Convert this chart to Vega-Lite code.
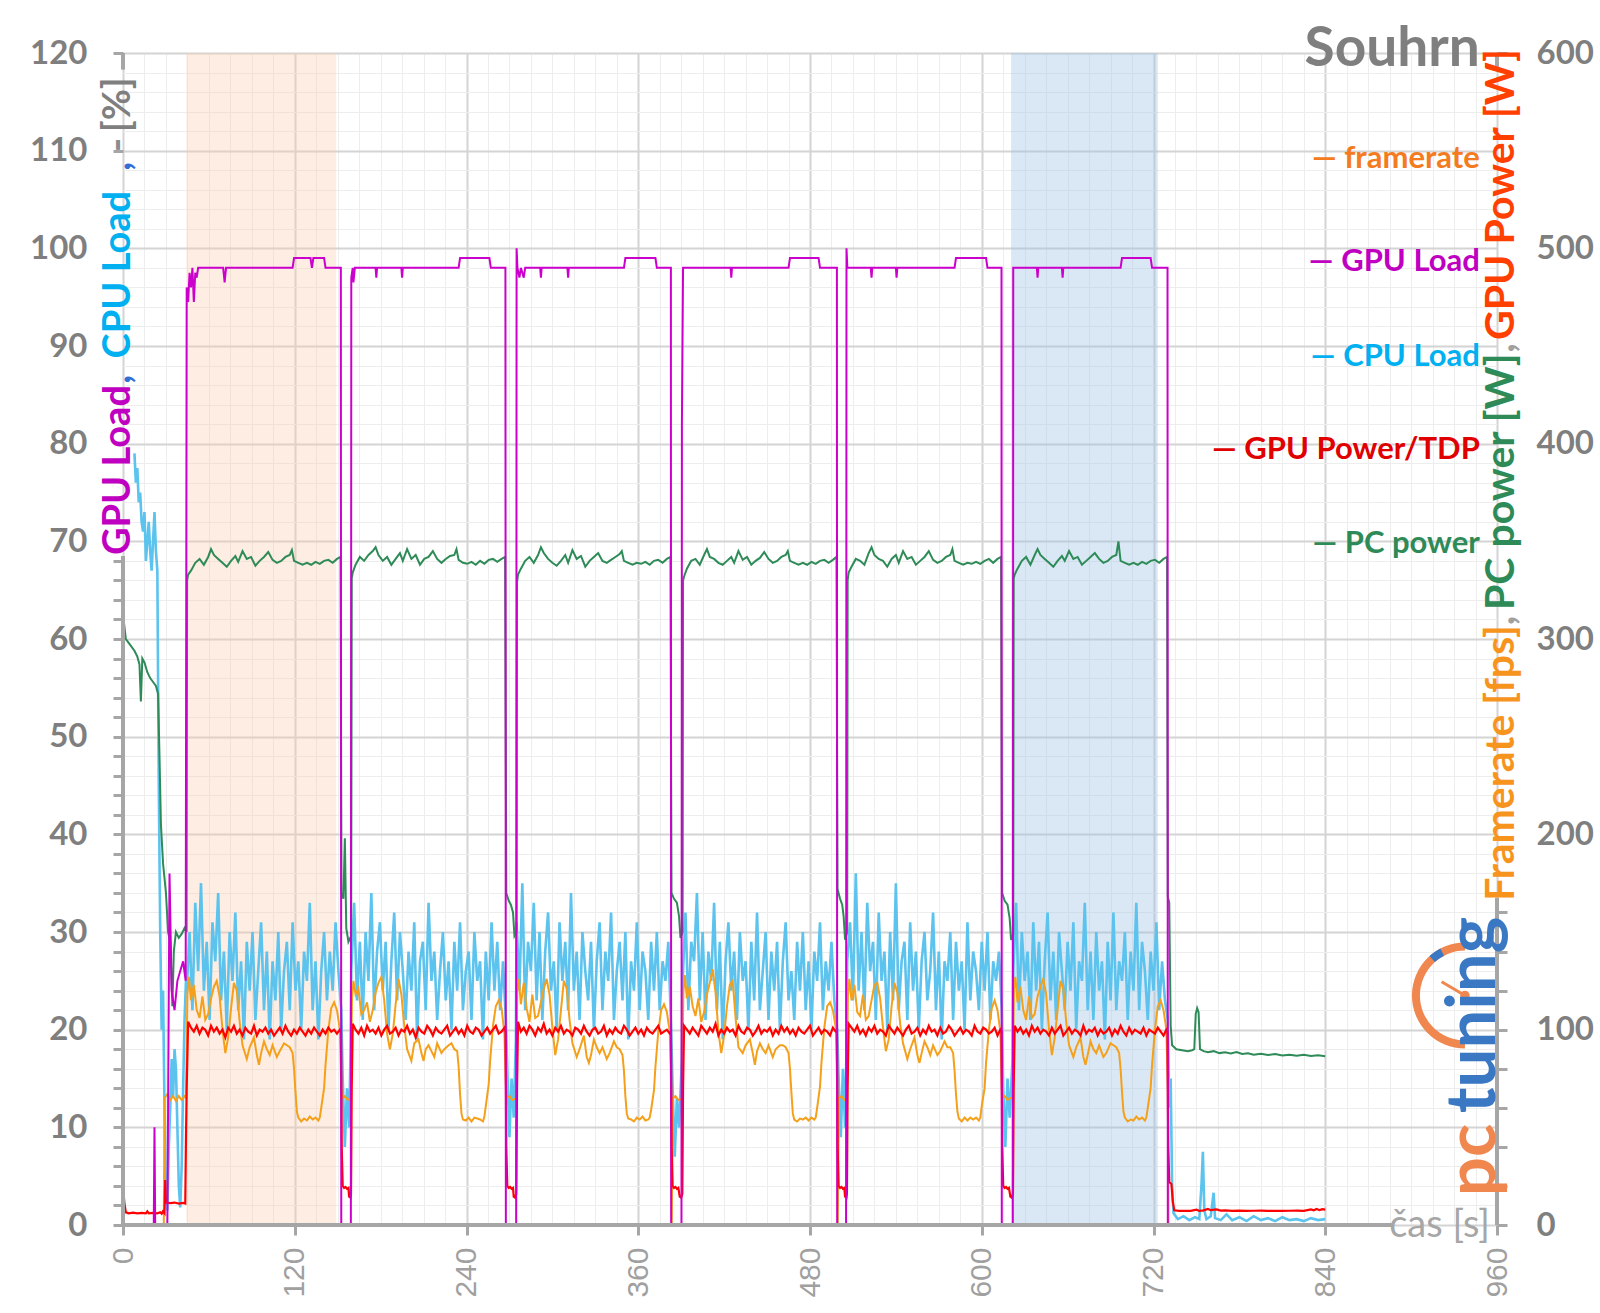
{
"$schema":"https://vega.github.io/schema/vega-lite/v6.json",
"width":1374,"height":1172,
"autosize":{"type":"none"},
"padding":{"left":123,"top":53,"right":103,"bottom":88},
"background":"white",
"config":{"view":{"stroke":null},"font":"Lato"},
"data":{"values":[{"k":1}]},
"datasets":{
"fps":[{"t":0,"v":0},{"t":28.5,"v":0},{"t":29,"v":65},{"t":31,"v":67},{"t":33,"v":64},{"t":35,"v":66},{"t":37,"v":63.5},{"t":39,"v":66},{"t":41,"v":64},{"t":43,"v":66},{"t":44,"v":65},
{"t":45,"v":118},{"t":46,"v":127},{"t":47.5,"v":115},{"t":49.5,"v":123},{"t":51.5,"v":110},{"t":53.5,"v":106},{"t":55.5,"v":117},{"t":57.5,"v":105},{"t":59.5,"v":108},{"t":61.5,"v":116},{"t":63.5,"v":122},{"t":65.5,"v":125},{"t":67.5,"v":117},{"t":69.5,"v":100},{"t":71.5,"v":88},{"t":73.5,"v":96},{"t":75.5,"v":111},{"t":77.5,"v":124},{"t":79.5,"v":120},{"t":81.5,"v":104},{"t":83.5,"v":92},{"t":86.5,"v":85},{"t":88.5,"v":91},{"t":91.5,"v":96},{"t":93.5,"v":87},{"t":95,"v":82},{"t":96.5,"v":88},{"t":98.5,"v":94},{"t":100.5,"v":90},{"t":102.5,"v":87},{"t":104.5,"v":92},{"t":107.5,"v":86},{"t":109.5,"v":89},{"t":112.5,"v":93},{"t":114.5,"v":92},{"t":116.5,"v":91},{"t":118.5,"v":88},{"t":119.5,"v":80},{"t":120.5,"v":68},{"t":121.5,"v":58},{"t":122.5,"v":55},{"t":124.5,"v":53},{"t":126.5,"v":54.5},{"t":128.5,"v":53.5},{"t":130.5,"v":55.5},{"t":132.5,"v":54},{"t":134.5,"v":55},{"t":136.5,"v":53.5},{"t":137.5,"v":55},{"t":138.5,"v":60},{"t":140.5,"v":70},{"t":141.5,"v":82},{"t":143.5,"v":100},{"t":145.5,"v":111},{"t":147.5,"v":114},{"t":149.5,"v":110},{"t":151.5,"v":100},{"t":152.5,"v":70},
{"t":153,"v":65},{"t":155,"v":66},{"t":157,"v":64},{"t":159,"v":65},
{"t":160,"v":116},{"t":161,"v":125},{"t":162.5,"v":118},{"t":164.5,"v":121},{"t":166.5,"v":108},{"t":168.5,"v":110},{"t":170.5,"v":114},{"t":172.5,"v":104},{"t":174.5,"v":110},{"t":176.5,"v":119},{"t":178.5,"v":124},{"t":180.5,"v":127},{"t":182.5,"v":115},{"t":184.5,"v":98},{"t":186.5,"v":90},{"t":188.5,"v":98},{"t":190.5,"v":113},{"t":192.5,"v":126},{"t":194.5,"v":118},{"t":196.5,"v":102},{"t":198.5,"v":90},{"t":201.5,"v":84},{"t":203.5,"v":93},{"t":206.5,"v":95},{"t":208.5,"v":88},{"t":210,"v":84},{"t":211.5,"v":90},{"t":213.5,"v":92},{"t":215.5,"v":89},{"t":217.5,"v":86},{"t":219.5,"v":93},{"t":222.5,"v":88},{"t":224.5,"v":90},{"t":227.5,"v":92},{"t":229.5,"v":93},{"t":231.5,"v":90},{"t":233.5,"v":89},{"t":234.5,"v":81},{"t":235.5,"v":67},{"t":236.5,"v":57},{"t":237.5,"v":54},{"t":239.5,"v":53.5},{"t":241.5,"v":55},{"t":243.5,"v":53},{"t":245.5,"v":55},{"t":247.5,"v":54.5},{"t":249.5,"v":54},{"t":251.5,"v":53},{"t":252.5,"v":55.5},{"t":253.5,"v":61},{"t":255.5,"v":72},{"t":256.5,"v":84},{"t":258.5,"v":102},{"t":260.5,"v":112},{"t":262.5,"v":115},{"t":264.5,"v":111},{"t":266.5,"v":98},{"t":267.5,"v":72},
{"t":268,"v":65},{"t":270,"v":66},{"t":272,"v":64},{"t":274.5,"v":65},
{"t":275.5,"v":120},{"t":276.5,"v":126},{"t":278,"v":113},{"t":280,"v":124},{"t":282,"v":111},{"t":284,"v":104},{"t":286,"v":118},{"t":288,"v":106},{"t":290,"v":107},{"t":292,"v":114},{"t":294,"v":121},{"t":296,"v":126},{"t":298,"v":118},{"t":300,"v":101},{"t":302,"v":87},{"t":304,"v":95},{"t":306,"v":110},{"t":308,"v":125},{"t":310,"v":121},{"t":312,"v":105},{"t":314,"v":93},{"t":317,"v":86},{"t":319,"v":90},{"t":322,"v":97},{"t":324,"v":86},{"t":325.5,"v":83},{"t":327,"v":87},{"t":329,"v":95},{"t":331,"v":91},{"t":333,"v":88},{"t":335,"v":91},{"t":338,"v":85},{"t":340,"v":88},{"t":343,"v":94},{"t":345,"v":91},{"t":347,"v":90},{"t":349,"v":87},{"t":350,"v":79},{"t":351,"v":66},{"t":352,"v":57},{"t":353,"v":54.5},{"t":355,"v":54},{"t":357,"v":53},{"t":359,"v":55},{"t":361,"v":54},{"t":363,"v":55.5},{"t":365,"v":53.5},{"t":367,"v":54},{"t":368,"v":55},{"t":369,"v":59},{"t":371,"v":69},{"t":372,"v":81},{"t":374,"v":99},{"t":376,"v":110},{"t":378,"v":113},{"t":380,"v":109},{"t":382,"v":99},{"t":383,"v":70},
{"t":383.4,"v":0},{"t":384.2,"v":65},{"t":386,"v":66},{"t":388,"v":64},{"t":390.5,"v":65},
{"t":391.5,"v":119},{"t":392.5,"v":128},{"t":394,"v":116},{"t":396,"v":122},{"t":398,"v":112},{"t":400,"v":107},{"t":402,"v":116},{"t":404,"v":104},{"t":406,"v":109},{"t":408,"v":118},{"t":410,"v":124},{"t":412,"v":131},{"t":414,"v":119},{"t":416,"v":99},{"t":418,"v":88},{"t":420,"v":97},{"t":422,"v":112},{"t":424,"v":123},{"t":426,"v":125},{"t":428,"v":106},{"t":430,"v":91},{"t":433,"v":88},{"t":435,"v":92},{"t":438,"v":95},{"t":440,"v":88},{"t":441.5,"v":82},{"t":443,"v":89},{"t":445,"v":93},{"t":447,"v":90},{"t":449,"v":88},{"t":451,"v":92},{"t":454,"v":86},{"t":456,"v":90},{"t":459,"v":92},{"t":461,"v":92},{"t":463,"v":91},{"t":465,"v":88},{"t":466,"v":80},{"t":467,"v":68},{"t":468,"v":57},{"t":469,"v":54},{"t":471,"v":53},{"t":473,"v":54.5},{"t":475,"v":54},{"t":477,"v":55},{"t":479,"v":53.5},{"t":481,"v":55},{"t":483,"v":54},{"t":484,"v":55},{"t":485,"v":60},{"t":487,"v":71},{"t":488,"v":83},{"t":490,"v":101},{"t":492,"v":112},{"t":494,"v":114},{"t":496,"v":110},{"t":498,"v":101},{"t":499,"v":70},
{"t":499.4,"v":0},{"t":500.2,"v":65},{"t":502,"v":66},{"t":504,"v":64},{"t":505.5,"v":65},
{"t":506.5,"v":117},{"t":507.5,"v":126},{"t":509,"v":115},{"t":511,"v":123},{"t":513,"v":109},{"t":515,"v":107},{"t":517,"v":118},{"t":519,"v":105},{"t":521,"v":107},{"t":523,"v":115},{"t":525,"v":123},{"t":527,"v":124},{"t":529,"v":116},{"t":531,"v":101},{"t":533,"v":89},{"t":535,"v":95},{"t":537,"v":112},{"t":539,"v":124},{"t":541,"v":119},{"t":543,"v":103},{"t":545,"v":93},{"t":548,"v":85},{"t":550,"v":90},{"t":553,"v":96},{"t":555,"v":87},{"t":556.5,"v":83},{"t":558,"v":88},{"t":560,"v":94},{"t":562,"v":91},{"t":564,"v":87},{"t":566,"v":92},{"t":569,"v":87},{"t":571,"v":89},{"t":574,"v":94},{"t":576,"v":91},{"t":578,"v":91},{"t":580,"v":88},{"t":581,"v":79},{"t":582,"v":67},{"t":583,"v":58},{"t":584,"v":54.5},{"t":586,"v":53},{"t":588,"v":55},{"t":590,"v":53.5},{"t":592,"v":55},{"t":594,"v":54},{"t":596,"v":55},{"t":598,"v":53.5},{"t":599,"v":55},{"t":600,"v":61},{"t":602,"v":70},{"t":603,"v":83},{"t":605,"v":100},{"t":607,"v":111},{"t":609,"v":115},{"t":611,"v":110},{"t":613,"v":99},{"t":614,"v":70},
{"t":614.5,"v":65},{"t":616,"v":66},{"t":618,"v":64},{"t":620,"v":65},{"t":621.5,"v":65},
{"t":622.5,"v":121},{"t":623.5,"v":127},{"t":625,"v":114},{"t":627,"v":122},{"t":629,"v":110},{"t":631,"v":105},{"t":633,"v":117},{"t":635,"v":106},{"t":637,"v":108},{"t":639,"v":117},{"t":641,"v":122},{"t":643,"v":126},{"t":645,"v":118},{"t":647,"v":100},{"t":649,"v":87},{"t":651,"v":96},{"t":653,"v":110},{"t":655,"v":125},{"t":657,"v":121},{"t":659,"v":104},{"t":661,"v":92},{"t":664,"v":86},{"t":666,"v":91},{"t":669,"v":96},{"t":671,"v":86},{"t":672.5,"v":82},{"t":674,"v":87},{"t":676,"v":94},{"t":678,"v":90},{"t":680,"v":88},{"t":682,"v":92},{"t":685,"v":86},{"t":687,"v":88},{"t":690,"v":93},{"t":692,"v":92},{"t":694,"v":91},{"t":696,"v":88},{"t":697,"v":80},{"t":698,"v":68},{"t":699,"v":58},{"t":700,"v":55},{"t":702,"v":53},{"t":704,"v":54},{"t":706,"v":53.5},{"t":708,"v":55.5},{"t":710,"v":54},{"t":712,"v":55},{"t":714,"v":53.5},{"t":715,"v":55},{"t":716,"v":60},{"t":718,"v":70},{"t":719,"v":82},{"t":721,"v":100},{"t":723,"v":112},{"t":725,"v":115},{"t":727,"v":110},{"t":729,"v":100},{"t":730,"v":70},
{"t":730.5,"v":0},{"t":840,"v":0}],
"gpu":[{"t":0,"v":0},{"t":21.5,"v":0},{"t":22,"v":10},{"t":22.5,"v":0},{"t":31,"v":0},{"t":32.5,"v":36},{"t":34,"v":24},{"t":36,"v":22},{"t":38,"v":25},{"t":40,"v":26},{"t":42,"v":27},{"t":43.8,"v":25},{"t":44.5,"v":96},{"t":45.5,"v":94.5},{"t":46.5,"v":97.5},{"t":47.5,"v":96},{"t":48.5,"v":98},{"t":49.5,"v":94.5},{"t":50.5,"v":97.5},{"t":51.5,"v":97},{"t":52.5,"v":98},{"t":70,"v":98},{"t":71,"v":96.5},{"t":72,"v":98},{"t":118.5,"v":98},{"t":119.5,"v":99},{"t":131,"v":99},{"t":132,"v":98},{"t":133,"v":99},{"t":140.5,"v":99},{"t":141.5,"v":98},{"t":152.2,"v":98},{"t":152.5,"v":0},
{"t":159.2,"v":0},{"t":159.5,"v":97},{"t":160.5,"v":98},{"t":161,"v":96.5},{"t":162,"v":98},{"t":176.5,"v":98},{"t":177,"v":97},{"t":177.5,"v":98},{"t":194.5,"v":98},{"t":195,"v":97},{"t":195.5,"v":98},{"t":234.5,"v":98},{"t":235.5,"v":99},{"t":256,"v":99},{"t":257,"v":98},{"t":267.2,"v":98},{"t":267.5,"v":0},
{"t":274.7,"v":0},{"t":275,"v":100},{"t":275.6,"v":98},{"t":277,"v":97},{"t":278,"v":98},{"t":280,"v":97},{"t":281,"v":98},{"t":291.5,"v":98},{"t":292,"v":97},{"t":292.5,"v":98},{"t":310.5,"v":98},{"t":311,"v":97},{"t":311.5,"v":98},{"t":350,"v":98},{"t":351,"v":99},{"t":372,"v":99},{"t":373,"v":98},{"t":382.8,"v":98},{"t":383,"v":0},
{"t":390.2,"v":0},{"t":390.5,"v":82},{"t":391.3,"v":98},{"t":424.5,"v":98},{"t":425,"v":97},{"t":425.5,"v":98},{"t":465,"v":98},{"t":466,"v":99},{"t":486,"v":99},{"t":487,"v":98},{"t":498.8,"v":98},{"t":499,"v":0},
{"t":505.2,"v":0},{"t":505.5,"v":100},{"t":506.1,"v":98},{"t":522.5,"v":98},{"t":523,"v":97},{"t":523.5,"v":98},{"t":540,"v":98},{"t":540.5,"v":97},{"t":541,"v":98},{"t":581,"v":98},{"t":582,"v":99},{"t":603,"v":99},{"t":604,"v":98},{"t":613.8,"v":98},{"t":614,"v":0},
{"t":621.7,"v":0},{"t":622,"v":98},{"t":638.5,"v":98},{"t":639,"v":97},{"t":639.5,"v":98},{"t":656,"v":98},{"t":656.5,"v":97},{"t":657,"v":98},{"t":697,"v":98},{"t":698,"v":99},{"t":718,"v":99},{"t":719,"v":98},{"t":729.8,"v":98},{"t":730,"v":0},{"t":840,"v":0}],
"cpu":[{"t":8,"v":79},{"t":9,"v":76},{"t":10,"v":77.5},{"t":11,"v":74},{"t":12,"v":75},{"t":13,"v":72},{"t":14,"v":71},{"t":15,"v":73},{"t":16,"v":68},{"t":17,"v":70},{"t":18,"v":72},{"t":19,"v":69},{"t":20,"v":67},{"t":21,"v":70},{"t":22,"v":73},{"t":23,"v":69},{"t":24,"v":67},{"t":25,"v":45},{"t":26,"v":30},{"t":27,"v":20},{"t":28,"v":24},{"t":29,"v":12},{"t":30,"v":3},{"t":31,"v":1.5},{"t":32,"v":8},{"t":33,"v":12},{"t":34,"v":17},{"t":35,"v":13},{"t":36,"v":18},{"t":37,"v":16},{"t":38,"v":10},{"t":39,"v":4},{"t":40,"v":1.8},{"t":41,"v":6},{"t":42,"v":14},{"t":43,"v":21},{"t":44,"v":25},
{"t":44.5,"v":24},{"t":46.5,"v":30},{"t":48.5,"v":22},{"t":50.5,"v":33},{"t":52.5,"v":26},{"t":54.5,"v":35},{"t":56.5,"v":24},{"t":58.5,"v":29},{"t":60.5,"v":21},{"t":62.5,"v":31},{"t":64.5,"v":27},{"t":66.5,"v":34},{"t":68.5,"v":23},{"t":70.5,"v":28},{"t":72.5,"v":20},{"t":74.5,"v":30},{"t":76.5,"v":25},{"t":78.5,"v":32},{"t":80.5,"v":22},{"t":82.5,"v":27},{"t":84.5,"v":19},{"t":86.5,"v":29},{"t":88.5,"v":24},{"t":90.5,"v":30},{"t":92.5,"v":21},{"t":94.5,"v":26},{"t":96.5,"v":31},{"t":98.5,"v":22},{"t":100.5,"v":28},{"t":102.5,"v":19},{"t":104.5,"v":27},{"t":106.5,"v":23},{"t":108.5,"v":30},{"t":110.5,"v":20},{"t":112.5,"v":26},{"t":114.5,"v":29},{"t":116.5,"v":22},{"t":118.5,"v":31},{"t":120.5,"v":24},{"t":122.5,"v":27},{"t":124.5,"v":20},{"t":126.5,"v":28},{"t":128.5,"v":25},{"t":130.5,"v":33},{"t":132.5,"v":22},{"t":134.5,"v":27},{"t":136.5,"v":19},{"t":138.5,"v":26},{"t":140.5,"v":30},{"t":142.5,"v":23},{"t":144.5,"v":28},{"t":146.5,"v":24},{"t":148.5,"v":31},{"t":150.5,"v":26},{"t":152.5,"v":22},
{"t":153.5,"v":15},{"t":155,"v":8},{"t":156.5,"v":14},{"t":158,"v":10},{"t":159,"v":18},
{"t":159.5,"v":26},{"t":161.5,"v":33},{"t":163.5,"v":23},{"t":165.5,"v":29},{"t":167.5,"v":21},{"t":169.5,"v":30},{"t":171.5,"v":25},{"t":173.5,"v":34},{"t":175.5,"v":22},{"t":177.5,"v":28},{"t":179.5,"v":31},{"t":181.5,"v":24},{"t":183.5,"v":29},{"t":185.5,"v":20},{"t":187.5,"v":27},{"t":189.5,"v":32},{"t":191.5,"v":23},{"t":193.5,"v":30},{"t":195.5,"v":26},{"t":197.5,"v":21},{"t":199.5,"v":28},{"t":201.5,"v":24},{"t":203.5,"v":31},{"t":205.5,"v":19},{"t":207.5,"v":27},{"t":209.5,"v":29},{"t":211.5,"v":22},{"t":213.5,"v":33},{"t":215.5,"v":25},{"t":217.5,"v":28},{"t":219.5,"v":21},{"t":221.5,"v":26},{"t":223.5,"v":30},{"t":225.5,"v":23},{"t":227.5,"v":27},{"t":229.5,"v":20},{"t":231.5,"v":29},{"t":233.5,"v":24},{"t":235.5,"v":31},{"t":237.5,"v":22},{"t":239.5,"v":26},{"t":241.5,"v":28},{"t":243.5,"v":21},{"t":245.5,"v":30},{"t":247.5,"v":25},{"t":249.5,"v":27},{"t":251.5,"v":19},{"t":253.5,"v":28},{"t":255.5,"v":23},{"t":257.5,"v":31},{"t":259.5,"v":24},{"t":261.5,"v":29},{"t":263.5,"v":22},{"t":265.5,"v":27},{"t":267.5,"v":21},
{"t":268.5,"v":16},{"t":270,"v":9},{"t":271.5,"v":15},{"t":273,"v":11},{"t":274.5,"v":19},
{"t":275,"v":31},{"t":277,"v":24},{"t":279,"v":35},{"t":281,"v":22},{"t":283,"v":29},{"t":285,"v":26},{"t":287,"v":33},{"t":289,"v":23},{"t":291,"v":30},{"t":293,"v":21},{"t":295,"v":28},{"t":297,"v":32},{"t":299,"v":24},{"t":301,"v":27},{"t":303,"v":20},{"t":305,"v":31},{"t":307,"v":25},{"t":309,"v":29},{"t":311,"v":22},{"t":313,"v":34},{"t":315,"v":24},{"t":317,"v":28},{"t":319,"v":21},{"t":321,"v":30},{"t":323,"v":26},{"t":325,"v":23},{"t":327,"v":29},{"t":329,"v":20},{"t":331,"v":27},{"t":333,"v":31},{"t":335,"v":22},{"t":337,"v":28},{"t":339,"v":25},{"t":341,"v":32},{"t":343,"v":21},{"t":345,"v":26},{"t":347,"v":29},{"t":349,"v":23},{"t":351,"v":30},{"t":353,"v":19},{"t":355,"v":27},{"t":357,"v":24},{"t":359,"v":31},{"t":361,"v":22},{"t":363,"v":28},{"t":365,"v":26},{"t":367,"v":21},{"t":369,"v":29},{"t":371,"v":24},{"t":373,"v":30},{"t":375,"v":22},{"t":377,"v":27},{"t":379,"v":25},{"t":381,"v":29},{"t":383,"v":20},
{"t":384,"v":14},{"t":385.5,"v":7},{"t":387,"v":13},{"t":388.5,"v":10},{"t":390.5,"v":17},
{"t":391,"v":25},{"t":393,"v":32},{"t":395,"v":22},{"t":397,"v":29},{"t":399,"v":27},{"t":401,"v":34},{"t":403,"v":23},{"t":405,"v":30},{"t":407,"v":21},{"t":409,"v":28},{"t":411,"v":25},{"t":413,"v":33},{"t":415,"v":22},{"t":417,"v":29},{"t":419,"v":19},{"t":421,"v":27},{"t":423,"v":31},{"t":425,"v":24},{"t":427,"v":28},{"t":429,"v":21},{"t":431,"v":30},{"t":433,"v":25},{"t":435,"v":27},{"t":437,"v":20},{"t":439,"v":29},{"t":441,"v":23},{"t":443,"v":32},{"t":445,"v":22},{"t":447,"v":26},{"t":449,"v":30},{"t":451,"v":21},{"t":453,"v":28},{"t":455,"v":24},{"t":457,"v":29},{"t":459,"v":20},{"t":461,"v":27},{"t":463,"v":31},{"t":465,"v":23},{"t":467,"v":26},{"t":469,"v":21},{"t":471,"v":29},{"t":473,"v":24},{"t":475,"v":30},{"t":477,"v":22},{"t":479,"v":27},{"t":481,"v":20},{"t":483,"v":28},{"t":485,"v":25},{"t":487,"v":31},{"t":489,"v":22},{"t":491,"v":27},{"t":493,"v":24},{"t":495,"v":29},{"t":497,"v":23},{"t":499,"v":20},
{"t":500,"v":15},{"t":501.5,"v":9},{"t":503,"v":16},{"t":504.5,"v":10},{"t":505.5,"v":18},
{"t":506,"v":27},{"t":508,"v":31},{"t":510,"v":23},{"t":512,"v":36},{"t":514,"v":24},{"t":516,"v":30},{"t":518,"v":22},{"t":520,"v":33},{"t":522,"v":26},{"t":524,"v":29},{"t":526,"v":21},{"t":528,"v":32},{"t":530,"v":25},{"t":532,"v":28},{"t":534,"v":20},{"t":536,"v":30},{"t":538,"v":23},{"t":540,"v":35},{"t":542,"v":22},{"t":544,"v":27},{"t":546,"v":29},{"t":548,"v":21},{"t":550,"v":31},{"t":552,"v":24},{"t":554,"v":28},{"t":556,"v":20},{"t":558,"v":27},{"t":560,"v":30},{"t":562,"v":23},{"t":564,"v":26},{"t":566,"v":32},{"t":568,"v":22},{"t":570,"v":28},{"t":572,"v":19},{"t":574,"v":27},{"t":576,"v":25},{"t":578,"v":30},{"t":580,"v":21},{"t":582,"v":29},{"t":584,"v":24},{"t":586,"v":27},{"t":588,"v":20},{"t":590,"v":31},{"t":592,"v":23},{"t":594,"v":28},{"t":596,"v":26},{"t":598,"v":22},{"t":600,"v":29},{"t":602,"v":24},{"t":604,"v":30},{"t":606,"v":21},{"t":608,"v":27},{"t":610,"v":25},{"t":612,"v":28},{"t":614,"v":22},
{"t":615,"v":14},{"t":616.5,"v":8},{"t":618,"v":15},{"t":619.5,"v":11},{"t":621.5,"v":17},
{"t":622,"v":26},{"t":624,"v":33},{"t":626,"v":22},{"t":628,"v":30},{"t":630,"v":25},{"t":632,"v":28},{"t":634,"v":21},{"t":636,"v":31},{"t":638,"v":24},{"t":640,"v":29},{"t":642,"v":20},{"t":644,"v":27},{"t":646,"v":32},{"t":648,"v":23},{"t":650,"v":28},{"t":652,"v":21},{"t":654,"v":30},{"t":656,"v":26},{"t":658,"v":22},{"t":660,"v":29},{"t":662,"v":24},{"t":664,"v":31},{"t":666,"v":20},{"t":668,"v":27},{"t":670,"v":25},{"t":672,"v":33},{"t":674,"v":22},{"t":676,"v":28},{"t":678,"v":21},{"t":680,"v":30},{"t":682,"v":24},{"t":684,"v":27},{"t":686,"v":19},{"t":688,"v":29},{"t":690,"v":23},{"t":692,"v":32},{"t":694,"v":22},{"t":696,"v":27},{"t":698,"v":25},{"t":700,"v":30},{"t":702,"v":21},{"t":704,"v":28},{"t":706,"v":24},{"t":708,"v":33},{"t":710,"v":22},{"t":712,"v":29},{"t":714,"v":26},{"t":716,"v":21},{"t":718,"v":28},{"t":720,"v":24},{"t":722,"v":31},{"t":724,"v":22},{"t":726,"v":27},{"t":728,"v":23},{"t":730,"v":21},
{"t":731,"v":12},{"t":732,"v":15},{"t":733,"v":4},{"t":734,"v":1.2},{"t":737,"v":0.6},{"t":741,"v":0.9},{"t":745,"v":0.5},{"t":749,"v":0.8},{"t":752,"v":0.6},{"t":753.5,"v":4},{"t":754.5,"v":7.5},{"t":755.5,"v":1.5},{"t":757,"v":0.6},{"t":760,"v":0.9},{"t":762,"v":3.3},{"t":763,"v":0.7},{"t":767,"v":0.5},{"t":771,"v":1.1},{"t":775,"v":0.5},{"t":780,"v":0.8},{"t":785,"v":0.4},{"t":790,"v":0.9},{"t":795,"v":0.5},{"t":800,"v":0.7},{"t":805,"v":0.4},{"t":810,"v":0.8},{"t":815,"v":0.5},{"t":820,"v":0.6},{"t":825,"v":0.4},{"t":830,"v":0.7},{"t":835,"v":0.5},{"t":840,"v":0.6}],
"pw":[{"t":0,"v":20},{"t":1,"v":11},{"t":2,"v":6.5},{"t":4,"v":6},{"t":7,"v":6.3},{"t":10,"v":6},{"t":13,"v":6.2},{"t":16,"v":6},{"t":17,"v":7},{"t":18,"v":6},{"t":21,"v":6.2},{"t":24,"v":6},{"t":26,"v":6.5},{"t":27,"v":5.8},{"t":28,"v":7},{"t":29,"v":6},{"t":29.5,"v":23},{"t":30,"v":11.5},{"t":33,"v":11.2},{"t":36,"v":11.5},{"t":39,"v":11},{"t":42,"v":11.3},{"t":43.5,"v":11},{"t":44,"v":45},{"t":44.5,"v":70},
{"t":45.5,"v":104},{"t":47.5,"v":101},{"t":49.5,"v":99},{"t":51.5,"v":102},{"t":53.5,"v":98},{"t":55.5,"v":101},{"t":57.5,"v":100},{"t":59.5,"v":97},{"t":61.5,"v":102},{"t":63.5,"v":99},{"t":65.5,"v":101},{"t":67.5,"v":98},{"t":69.5,"v":100},{"t":71.5,"v":96},{"t":73.5,"v":101},{"t":75.5,"v":99},{"t":77.5,"v":102},{"t":79.5,"v":98},{"t":81.5,"v":100},{"t":83.5,"v":97},{"t":85.5,"v":101},{"t":87.5,"v":99},{"t":89.5,"v":98},{"t":91.5,"v":102},{"t":93.5,"v":97},{"t":95.5,"v":100},{"t":97.5,"v":99},{"t":99.5,"v":101},{"t":101.5,"v":98},{"t":103.5,"v":100},{"t":105.5,"v":97},{"t":107.5,"v":99},{"t":109.5,"v":101},{"t":111.5,"v":98},{"t":113.5,"v":102},{"t":115.5,"v":99},{"t":117.5,"v":97},{"t":119.5,"v":100},{"t":121.5,"v":98},{"t":123.5,"v":101},{"t":125.5,"v":99},{"t":127.5,"v":97},{"t":129.5,"v":100},{"t":131.5,"v":98},{"t":133.5,"v":101},{"t":135.5,"v":99},{"t":137.5,"v":97},{"t":139.5,"v":100},{"t":141.5,"v":98},{"t":143.5,"v":101},{"t":145.5,"v":99},{"t":147.5,"v":100},{"t":149.5,"v":98},{"t":151.5,"v":100},
{"t":152.3,"v":99},{"t":152.8,"v":40},{"t":153.5,"v":20},{"t":154.5,"v":19},{"t":155.5,"v":19.5},{"t":156.5,"v":18.5},{"t":157.5,"v":19},{"t":158,"v":14.5},{"t":159,"v":14},{"t":159.3,"v":16},{"t":159.8,"v":70},
{"t":160.5,"v":103},{"t":162.5,"v":100},{"t":164.5,"v":98},{"t":166.5,"v":101},{"t":168.5,"v":97},{"t":170.5,"v":102},{"t":172.5,"v":99},{"t":174.5,"v":100},{"t":176.5,"v":98},{"t":178.5,"v":101},{"t":180.5,"v":97},{"t":182.5,"v":100},{"t":184.5,"v":102},{"t":186.5,"v":98},{"t":188.5,"v":99},{"t":190.5,"v":101},{"t":192.5,"v":97},{"t":194.5,"v":100},{"t":196.5,"v":99},{"t":198.5,"v":102},{"t":200.5,"v":98},{"t":202.5,"v":100},{"t":204.5,"v":96},{"t":206.5,"v":101},{"t":208.5,"v":99},{"t":210.5,"v":98},{"t":212.5,"v":102},{"t":214.5,"v":100},{"t":216.5,"v":97},{"t":218.5,"v":101},{"t":220.5,"v":99},{"t":222.5,"v":98},{"t":224.5,"v":100},{"t":226.5,"v":102},{"t":228.5,"v":97},{"t":230.5,"v":99},{"t":232.5,"v":101},{"t":234.5,"v":98},{"t":236.5,"v":100},{"t":238.5,"v":97},{"t":240.5,"v":102},{"t":242.5,"v":99},{"t":244.5,"v":98},{"t":246.5,"v":101},{"t":248.5,"v":100},{"t":250.5,"v":97},{"t":252.5,"v":99},{"t":254.5,"v":101},{"t":256.5,"v":98},{"t":258.5,"v":100},{"t":260.5,"v":102},{"t":262.5,"v":98},{"t":264.5,"v":99},{"t":266.5,"v":101},
{"t":267.3,"v":99},{"t":267.8,"v":40},{"t":268.5,"v":20},{"t":269.5,"v":19},{"t":270.5,"v":19.5},{"t":271.5,"v":18.5},{"t":272.5,"v":19},{"t":273,"v":14.5},{"t":274,"v":14},{"t":274.8,"v":16},{"t":275.3,"v":70},
{"t":276,"v":104},{"t":278,"v":99},{"t":280,"v":101},{"t":282,"v":98},{"t":284,"v":102},{"t":286,"v":100},{"t":288,"v":97},{"t":290,"v":101},{"t":292,"v":99},{"t":294,"v":103},{"t":296,"v":98},{"t":298,"v":100},{"t":300,"v":97},{"t":302,"v":101},{"t":304,"v":99},{"t":306,"v":102},{"t":308,"v":98},{"t":310,"v":100},{"t":312,"v":99},{"t":314,"v":97},{"t":316,"v":101},{"t":318,"v":100},{"t":320,"v":98},{"t":322,"v":102},{"t":324,"v":99},{"t":326,"v":97},{"t":328,"v":100},{"t":330,"v":101},{"t":332,"v":98},{"t":334,"v":99},{"t":336,"v":102},{"t":338,"v":97},{"t":340,"v":100},{"t":342,"v":98},{"t":344,"v":101},{"t":346,"v":99},{"t":348,"v":98},{"t":350,"v":102},{"t":352,"v":100},{"t":354,"v":97},{"t":356,"v":99},{"t":358,"v":101},{"t":360,"v":98},{"t":362,"v":100},{"t":364,"v":97},{"t":366,"v":101},{"t":368,"v":99},{"t":370,"v":98},{"t":372,"v":100},{"t":374,"v":102},{"t":376,"v":98},{"t":378,"v":99},{"t":380,"v":100},{"t":382,"v":98},
{"t":382.8,"v":99},{"t":383.3,"v":40},{"t":384,"v":20},{"t":385,"v":19},{"t":386,"v":19.5},{"t":387,"v":18.5},{"t":388,"v":19},{"t":389,"v":14.5},{"t":390,"v":14},{"t":390.8,"v":16},{"t":391.3,"v":70},
{"t":392,"v":102},{"t":394,"v":100},{"t":396,"v":98},{"t":398,"v":101},{"t":400,"v":99},{"t":402,"v":97},{"t":404,"v":102},{"t":406,"v":100},{"t":408,"v":98},{"t":410,"v":101},{"t":412,"v":99},{"t":414,"v":103},{"t":416,"v":97},{"t":418,"v":100},{"t":420,"v":98},{"t":422,"v":101},{"t":424,"v":99},{"t":426,"v":100},{"t":428,"v":97},{"t":430,"v":102},{"t":432,"v":99},{"t":434,"v":98},{"t":436,"v":101},{"t":438,"v":100},{"t":440,"v":97},{"t":442,"v":99},{"t":444,"v":102},{"t":446,"v":98},{"t":448,"v":100},{"t":450,"v":99},{"t":452,"v":101},{"t":454,"v":97},{"t":456,"v":100},{"t":458,"v":98},{"t":460,"v":102},{"t":462,"v":99},{"t":464,"v":101},{"t":466,"v":98},{"t":468,"v":100},{"t":470,"v":97},{"t":472,"v":101},{"t":474,"v":99},{"t":476,"v":98},{"t":478,"v":100},{"t":480,"v":102},{"t":482,"v":97},{"t":484,"v":99},{"t":486,"v":101},{"t":488,"v":98},{"t":490,"v":100},{"t":492,"v":99},{"t":494,"v":97},{"t":496,"v":101},{"t":498,"v":99},
{"t":498.8,"v":99},{"t":499.3,"v":40},{"t":500,"v":20},{"t":501,"v":19},{"t":502,"v":19.5},{"t":503,"v":18.5},{"t":504,"v":19},{"t":504.5,"v":14.5},{"t":505.5,"v":14},{"t":505.8,"v":16},{"t":506.3,"v":70},
{"t":507,"v":103},{"t":509,"v":101},{"t":511,"v":99},{"t":513,"v":102},{"t":515,"v":98},{"t":517,"v":100},{"t":519,"v":97},{"t":521,"v":101},{"t":523,"v":99},{"t":525,"v":102},{"t":527,"v":98},{"t":529,"v":100},{"t":531,"v":99},{"t":533,"v":97},{"t":535,"v":102},{"t":537,"v":100},{"t":539,"v":98},{"t":541,"v":101},{"t":543,"v":99},{"t":545,"v":97},{"t":547,"v":100},{"t":549,"v":102},{"t":551,"v":98},{"t":553,"v":99},{"t":555,"v":101},{"t":557,"v":97},{"t":559,"v":100},{"t":561,"v":98},{"t":563,"v":102},{"t":565,"v":99},{"t":567,"v":100},{"t":569,"v":97},{"t":571,"v":101},{"t":573,"v":98},{"t":575,"v":99},{"t":577,"v":102},{"t":579,"v":100},{"t":581,"v":97},{"t":583,"v":99},{"t":585,"v":101},{"t":587,"v":98},{"t":589,"v":100},{"t":591,"v":99},{"t":593,"v":97},{"t":595,"v":102},{"t":597,"v":99},{"t":599,"v":98},{"t":601,"v":101},{"t":603,"v":100},{"t":605,"v":98},{"t":607,"v":99},{"t":609,"v":101},{"t":611,"v":97},{"t":613,"v":100},
{"t":613.8,"v":99},{"t":614.3,"v":40},{"t":615,"v":20},{"t":616,"v":19},{"t":617,"v":19.5},{"t":618,"v":18.5},{"t":619,"v":19},{"t":620,"v":14.5},{"t":621,"v":14},{"t":621.8,"v":16},{"t":622.3,"v":70},
{"t":623,"v":102},{"t":625,"v":99},{"t":627,"v":101},{"t":629,"v":98},{"t":631,"v":100},{"t":633,"v":97},{"t":635,"v":102},{"t":637,"v":99},{"t":639,"v":101},{"t":641,"v":98},{"t":643,"v":100},{"t":645,"v":99},{"t":647,"v":97},{"t":649,"v":101},{"t":651,"v":98},{"t":653,"v":100},{"t":655,"v":102},{"t":657,"v":97},{"t":659,"v":99},{"t":661,"v":101},{"t":663,"v":98},{"t":665,"v":100},{"t":667,"v":99},{"t":669,"v":97},{"t":671,"v":102},{"t":673,"v":98},{"t":675,"v":100},{"t":677,"v":99},{"t":679,"v":101},{"t":681,"v":97},{"t":683,"v":100},{"t":685,"v":98},{"t":687,"v":99},{"t":689,"v":101},{"t":691,"v":97},{"t":693,"v":100},{"t":695,"v":98},{"t":697,"v":102},{"t":699,"v":99},{"t":701,"v":97},{"t":703,"v":101},{"t":705,"v":98},{"t":707,"v":100},{"t":709,"v":99},{"t":711,"v":98},{"t":713,"v":101},{"t":715,"v":97},{"t":717,"v":100},{"t":719,"v":99},{"t":721,"v":98},{"t":723,"v":101},{"t":725,"v":99},{"t":727,"v":97},{"t":729,"v":100},
{"t":729.8,"v":99},{"t":730.3,"v":40},{"t":731,"v":22},{"t":732.5,"v":21},{"t":733.5,"v":12},{"t":734.5,"v":7.5},{"t":738,"v":7.2},{"t":742,"v":7.3},{"t":746,"v":7.2},{"t":750,"v":7.8},{"t":752,"v":7.2},{"t":755,"v":7.5},{"t":758,"v":8.2},{"t":760,"v":7.6},{"t":764,"v":8},{"t":767,"v":7.4},{"t":770,"v":7.5},{"t":775,"v":7.2},{"t":780,"v":7.4},{"t":785,"v":7.2},{"t":790,"v":7.3},{"t":795,"v":7.4},{"t":800,"v":7.2},{"t":805,"v":7.3},{"t":810,"v":7.2},{"t":815,"v":7.3},{"t":820,"v":7.4},{"t":825,"v":7.2},{"t":830,"v":8},{"t":832,"v":7.5},{"t":834,"v":8.2},{"t":836,"v":7.6},{"t":838,"v":8.1},{"t":840,"v":7.9}],
"pc":[{"t":0,"v":150},{"t":0.4,"v":310},{"t":2,"v":300},{"t":5,"v":297},{"t":8,"v":294},{"t":10,"v":291},{"t":11.5,"v":287},{"t":12.5,"v":268},{"t":13.5,"v":290},{"t":15,"v":288},{"t":17,"v":283},{"t":19,"v":280},{"t":21,"v":278},{"t":23,"v":276},{"t":24.5,"v":272},{"t":25.5,"v":240},{"t":26.5,"v":205},{"t":28,"v":185},{"t":30,"v":170},{"t":31.5,"v":150},{"t":33,"v":145},{"t":34.5,"v":112},{"t":35.5,"v":140},{"t":37,"v":150},{"t":39,"v":147},{"t":41,"v":149},{"t":43,"v":152},{"t":44.4,"v":150},
{"t":44.8,"v":330},{"t":45.5,"v":333},{"t":47.5,"v":335},{"t":50.5,"v":339},{"t":53.5,"v":341},{"t":56.5,"v":338},{"t":59.5,"v":342},{"t":61.5,"v":346},{"t":63.5,"v":343},{"t":66.5,"v":341},{"t":69.5,"v":339},{"t":72.5,"v":337},{"t":75.5,"v":340},{"t":78.5,"v":342.5},{"t":80.5,"v":339.5},{"t":83.5,"v":345},{"t":86.5,"v":341},{"t":89.5,"v":342},{"t":92.5,"v":337.5},{"t":95.5,"v":340},{"t":98.5,"v":342},{"t":101.5,"v":344.5},{"t":104.5,"v":340.5},{"t":107.5,"v":339},{"t":110.5,"v":340},{"t":113.5,"v":342},{"t":116.5,"v":343},{"t":118,"v":345.5},{"t":119.5,"v":340},{"t":122.5,"v":339},{"t":125.5,"v":338},{"t":128.5,"v":339},{"t":131.5,"v":338},{"t":134.5,"v":339.5},{"t":137.5,"v":338.5},{"t":140.5,"v":340},{"t":143.5,"v":340.5},{"t":146.5,"v":339},{"t":149.5,"v":341},{"t":152,"v":342},
{"t":152.6,"v":170},{"t":154,"v":167},{"t":155,"v":198},{"t":156,"v":152},{"t":157.5,"v":145},{"t":159.4,"v":148},
{"t":159.8,"v":331},{"t":160.5,"v":334},{"t":162.5,"v":338},{"t":165.5,"v":342},{"t":168.5,"v":340},{"t":171.5,"v":343},{"t":174.5,"v":345},{"t":176.5,"v":347},{"t":178.5,"v":343},{"t":181.5,"v":340},{"t":184.5,"v":342},{"t":187.5,"v":338},{"t":190.5,"v":341},{"t":193.5,"v":344},{"t":195.5,"v":340},{"t":198.5,"v":346},{"t":201.5,"v":341},{"t":204.5,"v":343},{"t":207.5,"v":338},{"t":210.5,"v":341},{"t":213.5,"v":342},{"t":216.5,"v":345},{"t":219.5,"v":341},{"t":222.5,"v":339},{"t":225.5,"v":341},{"t":228.5,"v":342.5},{"t":231.5,"v":343},{"t":233,"v":346},{"t":234.5,"v":340.5},{"t":237.5,"v":339},{"t":240.5,"v":338.5},{"t":243.5,"v":339.5},{"t":246.5,"v":338},{"t":249.5,"v":340},{"t":252.5,"v":338.5},{"t":255.5,"v":340.5},{"t":258.5,"v":341},{"t":261.5,"v":339.5},{"t":264.5,"v":341},{"t":267,"v":342},
{"t":267.8,"v":170},{"t":269.5,"v":166},{"t":271,"v":164},{"t":272.5,"v":160},{"t":273.5,"v":148},{"t":275,"v":150},
{"t":275.3,"v":329},{"t":276,"v":333},{"t":278,"v":336},{"t":281,"v":340},{"t":284,"v":342},{"t":287,"v":339},{"t":290,"v":343},{"t":292,"v":347},{"t":294,"v":344},{"t":297,"v":341},{"t":300,"v":339},{"t":303,"v":337.5},{"t":306,"v":340},{"t":309,"v":343},{"t":311,"v":339},{"t":314,"v":345.5},{"t":317,"v":341},{"t":320,"v":342.5},{"t":323,"v":337},{"t":326,"v":340},{"t":329,"v":342},{"t":332,"v":344},{"t":335,"v":340},{"t":338,"v":339},{"t":341,"v":340.5},{"t":344,"v":342},{"t":347,"v":343.5},{"t":348.5,"v":345},{"t":350,"v":340},{"t":353,"v":339},{"t":356,"v":338},{"t":359,"v":339},{"t":362,"v":338.5},{"t":365,"v":339.5},{"t":368,"v":338},{"t":371,"v":340},{"t":374,"v":340.5},{"t":377,"v":339},{"t":380,"v":341},{"t":382.5,"v":342},
{"t":383.2,"v":170},{"t":385,"v":167},{"t":387,"v":165},{"t":388.5,"v":158},{"t":389.5,"v":147},{"t":391,"v":150},
{"t":391.3,"v":330},{"t":392,"v":332},{"t":394,"v":336},{"t":397,"v":340},{"t":400,"v":341},{"t":403,"v":338},{"t":406,"v":343},{"t":408,"v":346},{"t":410,"v":342},{"t":413,"v":341},{"t":416,"v":339},{"t":419,"v":338},{"t":422,"v":340},{"t":425,"v":342},{"t":427,"v":339},{"t":430,"v":345},{"t":433,"v":340.5},{"t":436,"v":342},{"t":439,"v":338},{"t":442,"v":340},{"t":445,"v":341.5},{"t":448,"v":344.5},{"t":451,"v":341},{"t":454,"v":339},{"t":457,"v":340},{"t":460,"v":342},{"t":463,"v":343},{"t":464.5,"v":345},{"t":466,"v":340},{"t":469,"v":339},{"t":472,"v":338},{"t":475,"v":339},{"t":478,"v":338},{"t":481,"v":339.5},{"t":484,"v":338.5},{"t":487,"v":340},{"t":490,"v":340.5},{"t":493,"v":339},{"t":496,"v":340.5},{"t":498.5,"v":342},
{"t":499.2,"v":172},{"t":501,"v":167},{"t":502.5,"v":164},{"t":503.5,"v":158},{"t":504.5,"v":146},{"t":506,"v":150},
{"t":506.3,"v":330},{"t":507,"v":334},{"t":509,"v":337},{"t":512,"v":341},{"t":515,"v":340},{"t":518,"v":338},{"t":521,"v":344},{"t":523,"v":347},{"t":525,"v":343},{"t":528,"v":341},{"t":531,"v":340},{"t":534,"v":337},{"t":537,"v":341},{"t":540,"v":343},{"t":542,"v":339},{"t":545,"v":345},{"t":548,"v":341},{"t":551,"v":342},{"t":554,"v":338},{"t":557,"v":340},{"t":560,"v":342},{"t":563,"v":345},{"t":566,"v":340.5},{"t":569,"v":339},{"t":572,"v":340},{"t":575,"v":342},{"t":578,"v":343},{"t":579.5,"v":346},{"t":581,"v":340},{"t":584,"v":339},{"t":587,"v":338},{"t":590,"v":339},{"t":593,"v":338.5},{"t":596,"v":339.5},{"t":599,"v":338.5},{"t":602,"v":340},{"t":605,"v":341},{"t":608,"v":339},{"t":611,"v":341},{"t":613.5,"v":342},
{"t":614.2,"v":170},{"t":616,"v":166},{"t":618,"v":164},{"t":619.5,"v":157},{"t":620.5,"v":146},{"t":622,"v":149},
{"t":622.3,"v":331},{"t":623,"v":333},{"t":625,"v":336},{"t":628,"v":340},{"t":631,"v":342},{"t":634,"v":338},{"t":637,"v":343},{"t":639,"v":346},{"t":641,"v":343},{"t":644,"v":341},{"t":647,"v":339},{"t":650,"v":337},{"t":653,"v":340},{"t":656,"v":342.5},{"t":658,"v":340},{"t":661,"v":345},{"t":664,"v":341},{"t":667,"v":342},{"t":670,"v":338},{"t":673,"v":340},{"t":676,"v":342},{"t":679,"v":344},{"t":682,"v":341},{"t":685,"v":339},{"t":688,"v":340},{"t":691,"v":342},{"t":694,"v":343},{"t":695.5,"v":350},{"t":697,"v":340},{"t":700,"v":339},{"t":703,"v":338},{"t":706,"v":339},{"t":709,"v":338},{"t":712,"v":339.5},{"t":715,"v":338.5},{"t":718,"v":340},{"t":721,"v":340.5},{"t":724,"v":339},{"t":727,"v":341},{"t":729.5,"v":342},
{"t":730,"v":168},{"t":731,"v":165},{"t":732,"v":102},{"t":733,"v":92},{"t":736,"v":90},{"t":740,"v":89.5},{"t":744,"v":89},{"t":747,"v":89.5},{"t":748.5,"v":90},{"t":749.5,"v":108},{"t":750.5,"v":111},{"t":751.5,"v":109},{"t":752.5,"v":90},{"t":755,"v":89},{"t":758,"v":88.5},{"t":762,"v":89},{"t":766,"v":88},{"t":770,"v":88.4},{"t":774,"v":87.8},{"t":778,"v":88.5},{"t":782,"v":87.6},{"t":786,"v":87.9},{"t":790,"v":87.2},{"t":795,"v":87.7},{"t":800,"v":87},{"t":805,"v":87.5},{"t":810,"v":86.8},{"t":815,"v":87.2},{"t":820,"v":86.6},{"t":825,"v":87.1},{"t":830,"v":86.5},{"t":835,"v":86.9},{"t":840,"v":86.4}]
},
"layer":[
 {"mark":{"type":"rect","color":"#F8CBAD","opacity":0.35},"encoding":{"x":{"datum":44.3,"type":"quantitative","scale":{"domain":[0,960],"nice":false,"zero":false},
    "axis":{"orient":"bottom","title":null,"domain":false,"values":[0,15,30,45,60,75,90,105,120,135,150,165,180,195,210,225,240,255,270,285,300,315,330,345,360,375,390,405,420,435,450,465,480,495,510,525,540,555,570,585,600,615,630,645,660,675,690,705,720,735,750,765,780,795,810,825,840,855,870,885,900,915,930,945,960],
     "grid":true,"gridColor":{"condition":{"test":"datum.value % 120 === 0","value":"#D4D4D4"},"value":"#EDEDED"},"gridWidth":{"condition":{"test":"datum.value % 120 === 0","value":2},"value":1},
     "tickColor":"#A6A6A6","tickWidth":3,"tickSize":10,"tickOpacity":{"condition":{"test":"datum.value % 120 === 0","value":1},"value":0},
     "labelExpr":"datum.value % 120 === 0 ? datum.label : ''","labelAngle":-90,"labelFont":"Liberation Sans","labelFontSize":30,"labelColor":"#A0A0A0","labelPadding":12,"labelOverlap":false,"labelFlush":false,"labelBound":false}},"x2":{"datum":149}}},
 {"mark":{"type":"rect","color":"#9DC3E6","opacity":0.38},"encoding":{"x":{"datum":620.5,"type":"quantitative","scale":{"domain":[0,960],"nice":false,"zero":false},"axis":null},"x2":{"datum":723}}},
 {"data":{"name":"cpu"},"mark":{"type":"line","color":"#5BC3EE","strokeWidth":2.6},
  "encoding":{
   "x":{"field":"t","type":"quantitative","scale":{"domain":[0,960],"nice":false,"zero":false},"axis":null},
   "y":{"field":"v","type":"quantitative","scale":{"domain":[0,120],"nice":false,"zero":false},
    "axis":{"orient":"left","title":null,"domain":false,"values":[0,2,4,6,8,10,12,14,16,18,20,22,24,26,28,30,32,34,36,38,40,42,44,46,48,50,52,54,56,58,60,62,64,66,68,70,72,74,76,78,80,82,84,86,88,90,92,94,96,98,100,102,104,106,108,110,112,114,116,118,120],
     "grid":true,"gridColor":{"condition":{"test":"datum.value % 10 === 0","value":"#D4D4D4"},"value":"#EDEDED"},"gridWidth":{"condition":{"test":"datum.value % 10 === 0","value":2},"value":1},
     "tickColor":"#A6A6A6","tickWidth":3,"tickSize":10,"tickOpacity":{"condition":{"test":"datum.value <= 68 || (datum.value >= 110 && datum.value % 10 === 0)","value":1},"value":0},
     "labelExpr":"datum.value % 10 === 0 ? datum.label : ''","labelFont":"Lato","labelFontWeight":"bold","labelFontSize":33,"labelColor":"#7F7F7F","labelPadding":26,"labelOverlap":false,"labelFlush":false,"labelBound":false}}}},
 {"data":{"name":"fps"},"mark":{"type":"line","color":"#F5A01A","strokeWidth":2},
  "encoding":{"x":{"field":"t","type":"quantitative","scale":{"domain":[0,960],"nice":false,"zero":false},"axis":null},
   "y":{"field":"v","type":"quantitative","scale":{"domain":[0,600],"nice":false,"zero":false},
    "axis":{"orient":"right","title":null,"domain":false,"grid":false,"values":[0,20,40,60,80,100,120,140,160,180,200,220,240,260,280,300,320,340,360,380,400,420,440,460,480,500,520,540,560,580,600],
     "tickColor":"#A6A6A6","tickWidth":3,"tickSize":10,"tickOpacity":{"condition":{"test":"datum.value <= 165 || datum.value === 600","value":1},"value":0},
     "labelExpr":"datum.value % 100 === 0 ? datum.label : ''","labelFont":"Lato","labelFontWeight":"bold","labelFontSize":33,"labelColor":"#7F7F7F","labelPadding":29,"labelOverlap":false,"labelFlush":false,"labelBound":false}}}},
 {"data":{"name":"pc"},"mark":{"type":"line","color":"#2E8B57","strokeWidth":2},
  "encoding":{"x":{"field":"t","type":"quantitative","scale":{"domain":[0,960],"nice":false,"zero":false},"axis":null},"y":{"field":"v","type":"quantitative","scale":{"domain":[0,600],"nice":false,"zero":false},"axis":null}}},
 {"data":{"name":"pw"},"mark":{"type":"line","color":"#FF0000","strokeWidth":2.2},
  "encoding":{"x":{"field":"t","type":"quantitative","scale":{"domain":[0,960],"nice":false,"zero":false},"axis":null},"y":{"field":"v","type":"quantitative","scale":{"domain":[0,600],"nice":false,"zero":false},"axis":null}}},
 {"data":{"name":"gpu"},"mark":{"type":"line","color":"#CC00CC","strokeWidth":2},
  "encoding":{"x":{"field":"t","type":"quantitative","scale":{"domain":[0,960],"nice":false,"zero":false},"axis":null},"y":{"field":"v","type":"quantitative","scale":{"domain":[0,120],"nice":false,"zero":false},"axis":null}}},
 {"mark":{"type":"rule","color":"#A6A6A6","strokeWidth":4},"encoding":{"x":{"datum":0,"type":"quantitative","scale":{"domain":[0,960],"nice":false,"zero":false},"axis":null},"y":{"datum":0,"type":"quantitative","scale":{"domain":[0,120],"nice":false,"zero":false},"axis":null},"y2":{"datum":68.5}}},
 {"mark":{"type":"rule","color":"#A6A6A6","strokeWidth":4},"encoding":{"x":{"datum":0,"type":"quantitative","scale":{"domain":[0,960],"nice":false,"zero":false},"axis":null},"y":{"datum":118.3,"type":"quantitative","scale":{"domain":[0,120],"nice":false,"zero":false},"axis":null},"y2":{"datum":120}}},
 {"mark":{"type":"rule","color":"#A6A6A6","strokeWidth":4},"encoding":{"x":{"datum":960,"type":"quantitative","scale":{"domain":[0,960],"nice":false,"zero":false},"axis":null},"y":{"datum":0,"type":"quantitative","scale":{"domain":[0,120],"nice":false,"zero":false},"axis":null},"y2":{"datum":33.5}}},
 {"mark":{"type":"rule","color":"#A6A6A6","strokeWidth":4},"encoding":{"x":{"datum":960,"type":"quantitative","scale":{"domain":[0,960],"nice":false,"zero":false},"axis":null},"y":{"datum":118.3,"type":"quantitative","scale":{"domain":[0,120],"nice":false,"zero":false},"axis":null},"y2":{"datum":120}}},
 {"mark":{"type":"rule","color":"#A6A6A6","strokeWidth":4},"encoding":{"x":{"datum":0,"type":"quantitative","scale":{"domain":[0,960],"nice":false,"zero":false},"axis":null},"x2":{"datum":888},"y":{"datum":0,"type":"quantitative","scale":{"domain":[0,120],"nice":false,"zero":false},"axis":null}}},
 {"mark":{"type":"text","text":"GPU Load","angle":270,"align":"center","baseline":"alphabetic","font":"Lato","fontWeight":"bold","fontSize":38,"color":"#C000C0"},"encoding":{"x":{"datum":5,"type":"quantitative","scale":{"domain":[0,960],"nice":false,"zero":false},"axis":null},"y":{"datum":77.3,"type":"quantitative","scale":{"domain":[0,120],"nice":false,"zero":false},"axis":null}}},
 {"mark":{"type":"text","text":",","angle":270,"align":"center","baseline":"alphabetic","font":"Lato","fontWeight":"bold","fontSize":38,"color":"#2F6FD6"},"encoding":{"x":{"datum":5,"type":"quantitative","scale":{"domain":[0,960],"nice":false,"zero":false},"axis":null},"y":{"datum":86.6,"type":"quantitative","scale":{"domain":[0,120],"nice":false,"zero":false},"axis":null}}},
 {"mark":{"type":"text","text":"CPU Load","angle":270,"align":"center","baseline":"alphabetic","font":"Lato","fontWeight":"bold","fontSize":38,"color":"#00B0F0"},"encoding":{"x":{"datum":5,"type":"quantitative","scale":{"domain":[0,960],"nice":false,"zero":false},"axis":null},"y":{"datum":97.3,"type":"quantitative","scale":{"domain":[0,120],"nice":false,"zero":false},"axis":null}}},
 {"mark":{"type":"text","text":",","angle":270,"align":"center","baseline":"alphabetic","font":"Lato","fontWeight":"bold","fontSize":38,"color":"#2F6FD6"},"encoding":{"x":{"datum":5,"type":"quantitative","scale":{"domain":[0,960],"nice":false,"zero":false},"axis":null},"y":{"datum":108.4,"type":"quantitative","scale":{"domain":[0,120],"nice":false,"zero":false},"axis":null}}},
 {"mark":{"type":"text","text":"-","angle":270,"align":"center","baseline":"alphabetic","font":"Lato","fontWeight":"bold","fontSize":38,"color":"#8C8C8C"},"encoding":{"x":{"datum":5,"type":"quantitative","scale":{"domain":[0,960],"nice":false,"zero":false},"axis":null},"y":{"datum":110.6,"type":"quantitative","scale":{"domain":[0,120],"nice":false,"zero":false},"axis":null}}},
 {"mark":{"type":"text","text":"[%]","angle":270,"align":"center","baseline":"alphabetic","font":"Lato","fontWeight":"bold","fontSize":38,"color":"#7F7F7F"},"encoding":{"x":{"datum":5,"type":"quantitative","scale":{"domain":[0,960],"nice":false,"zero":false},"axis":null},"y":{"datum":114.7,"type":"quantitative","scale":{"domain":[0,120],"nice":false,"zero":false},"axis":null}}},
 {"mark":{"type":"text","text":"Framerate [fps]","angle":270,"align":"center","baseline":"alphabetic","font":"Lato","fontWeight":"bold","fontSize":41,"color":"#F7941D"},"encoding":{"x":{"datum":972,"type":"quantitative","scale":{"domain":[0,960],"nice":false,"zero":false},"axis":null},"y":{"datum":47.3,"type":"quantitative","scale":{"domain":[0,120],"nice":false,"zero":false},"axis":null}}},
 {"mark":{"type":"text","text":",","angle":270,"align":"center","baseline":"alphabetic","font":"Lato","fontWeight":"bold","fontSize":41,"color":"#A0A0A0"},"encoding":{"x":{"datum":972,"type":"quantitative","scale":{"domain":[0,960],"nice":false,"zero":false},"axis":null},"y":{"datum":61.9,"type":"quantitative","scale":{"domain":[0,120],"nice":false,"zero":false},"axis":null}}},
 {"mark":{"type":"text","text":"PC power [W]","angle":270,"align":"center","baseline":"alphabetic","font":"Lato","fontWeight":"bold","fontSize":41,"color":"#2E8B57"},"encoding":{"x":{"datum":972,"type":"quantitative","scale":{"domain":[0,960],"nice":false,"zero":false},"axis":null},"y":{"datum":76.1,"type":"quantitative","scale":{"domain":[0,120],"nice":false,"zero":false},"axis":null}}},
 {"mark":{"type":"text","text":",","angle":270,"align":"center","baseline":"alphabetic","font":"Lato","fontWeight":"bold","fontSize":41,"color":"#A0A0A0"},"encoding":{"x":{"datum":972,"type":"quantitative","scale":{"domain":[0,960],"nice":false,"zero":false},"axis":null},"y":{"datum":89.8,"type":"quantitative","scale":{"domain":[0,120],"nice":false,"zero":false},"axis":null}}},
 {"mark":{"type":"text","text":"GPU Power [W]","angle":270,"align":"center","baseline":"alphabetic","font":"Lato","fontWeight":"bold","fontSize":41,"color":"#FF4000"},"encoding":{"x":{"datum":972,"type":"quantitative","scale":{"domain":[0,960],"nice":false,"zero":false},"axis":null},"y":{"datum":105.5,"type":"quantitative","scale":{"domain":[0,120],"nice":false,"zero":false},"axis":null}}},
 {"mark":{"type":"text","text":"Souhrn","align":"right","baseline":"alphabetic","font":"Lato","fontWeight":"bold","fontSize":55,"color":"#7F7F7F"},"encoding":{"x":{"datum":948,"type":"quantitative","scale":{"domain":[0,960],"nice":false,"zero":false},"axis":null},"y":{"datum":118.7,"type":"quantitative","scale":{"domain":[0,120],"nice":false,"zero":false},"axis":null}}},
 {"mark":{"type":"text","text":"—  framerate","align":"right","baseline":"alphabetic","font":"Lato","fontWeight":"bold","fontSize":31,"color":"#F47B20"},"encoding":{"x":{"datum":948,"type":"quantitative","scale":{"domain":[0,960],"nice":false,"zero":false},"axis":null},"y":{"datum":108.2,"type":"quantitative","scale":{"domain":[0,120],"nice":false,"zero":false},"axis":null}}},
 {"mark":{"type":"text","text":"—  GPU Load","align":"right","baseline":"alphabetic","font":"Lato","fontWeight":"bold","fontSize":31,"color":"#C000C0"},"encoding":{"x":{"datum":948,"type":"quantitative","scale":{"domain":[0,960],"nice":false,"zero":false},"axis":null},"y":{"datum":97.7,"type":"quantitative","scale":{"domain":[0,120],"nice":false,"zero":false},"axis":null}}},
 {"mark":{"type":"text","text":"—  CPU Load","align":"right","baseline":"alphabetic","font":"Lato","fontWeight":"bold","fontSize":31,"color":"#00B0F0"},"encoding":{"x":{"datum":948,"type":"quantitative","scale":{"domain":[0,960],"nice":false,"zero":false},"axis":null},"y":{"datum":88.0,"type":"quantitative","scale":{"domain":[0,120],"nice":false,"zero":false},"axis":null}}},
 {"mark":{"type":"text","text":"—  GPU Power/TDP","align":"right","baseline":"alphabetic","font":"Lato","fontWeight":"bold","fontSize":31,"color":"#E00000"},"encoding":{"x":{"datum":948,"type":"quantitative","scale":{"domain":[0,960],"nice":false,"zero":false},"axis":null},"y":{"datum":78.4,"type":"quantitative","scale":{"domain":[0,120],"nice":false,"zero":false},"axis":null}}},
 {"mark":{"type":"text","text":"—  PC power","align":"right","baseline":"alphabetic","font":"Lato","fontWeight":"bold","fontSize":31,"color":"#2E8B57"},"encoding":{"x":{"datum":948,"type":"quantitative","scale":{"domain":[0,960],"nice":false,"zero":false},"axis":null},"y":{"datum":68.8,"type":"quantitative","scale":{"domain":[0,120],"nice":false,"zero":false},"axis":null}}},
 {"mark":{"type":"text","text":"čas [s]","align":"right","baseline":"alphabetic","font":"Lato","fontSize":38,"color":"#A6A6A6"},"encoding":{"x":{"datum":955,"type":"quantitative","scale":{"domain":[0,960],"nice":false,"zero":false},"axis":null},"y":{"datum":-1.2,"type":"quantitative","scale":{"domain":[0,120],"nice":false,"zero":false},"axis":null}}},
 {"mark":{"type":"arc","theta":3.1416,"theta2":6.2832,"innerRadius":45,"outerRadius":53,"color":"#F0874F"},"encoding":{"x":{"datum":937.6,"type":"quantitative","scale":{"domain":[0,960],"nice":false,"zero":false},"axis":null},"y":{"datum":23.5,"type":"quantitative","scale":{"domain":[0,120],"nice":false,"zero":false},"axis":null}}},
 {"mark":{"type":"arc","theta":5.55,"theta2":5.8,"innerRadius":45,"outerRadius":53,"color":"#3A78C3"},"encoding":{"x":{"datum":937.6,"type":"quantitative","scale":{"domain":[0,960],"nice":false,"zero":false},"axis":null},"y":{"datum":23.5,"type":"quantitative","scale":{"domain":[0,120],"nice":false,"zero":false},"axis":null}}},
 {"mark":{"type":"rule","color":"#F0874F","strokeWidth":3},"encoding":{"x":{"datum":921.3,"type":"quantitative","scale":{"domain":[0,960],"nice":false,"zero":false},"axis":null},"x2":{"datum":937.6},"y":{"datum":24.9,"type":"quantitative","scale":{"domain":[0,120],"nice":false,"zero":false},"axis":null},"y2":{"datum":23.5}}},
 {"mark":{"type":"point","filled":true,"size":90,"opacity":1,"color":"#F0874F"},"encoding":{"x":{"datum":937.6,"type":"quantitative","scale":{"domain":[0,960],"nice":false,"zero":false},"axis":null},"y":{"datum":23.5,"type":"quantitative","scale":{"domain":[0,120],"nice":false,"zero":false},"axis":null}}},
 {"mark":{"type":"text","text":"pc","angle":270,"align":"center","baseline":"alphabetic","font":"Lato","fontWeight":"bold","fontSize":69,"color":"#F0874F"},"encoding":{"x":{"datum":958.6,"type":"quantitative","scale":{"domain":[0,960],"nice":false,"zero":false},"axis":null},"y":{"datum":6.65,"type":"quantitative","scale":{"domain":[0,120],"nice":false,"zero":false},"axis":null}}},
 {"mark":{"type":"text","text":"tuning","angle":270,"align":"center","baseline":"alphabetic","font":"Lato","fontWeight":"bold","fontSize":69,"color":"#3A78C3"},"encoding":{"x":{"datum":958.6,"type":"quantitative","scale":{"domain":[0,960],"nice":false,"zero":false},"axis":null},"y":{"datum":21.5,"type":"quantitative","scale":{"domain":[0,120],"nice":false,"zero":false},"axis":null}}}
],
"resolve":{"scale":{"y":"independent"},"axis":{"x":"independent","y":"independent"}}
}
